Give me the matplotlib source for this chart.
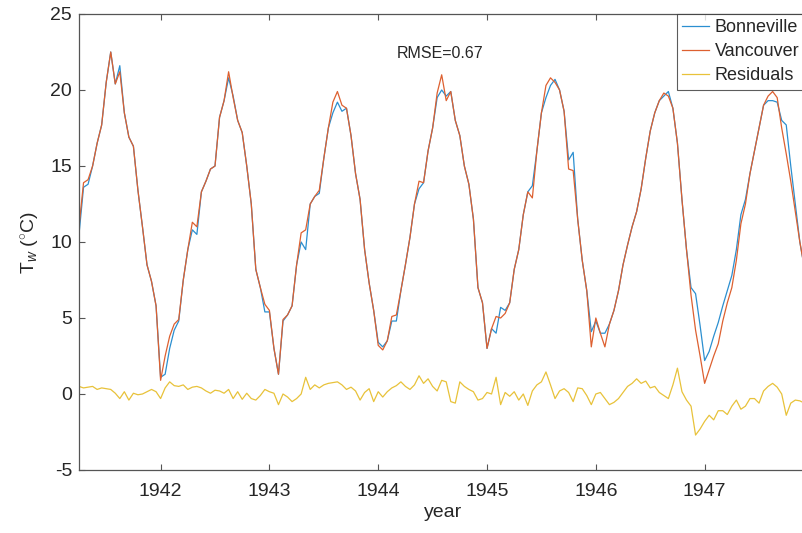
"""
Temperatura del agua en Bonneville vs Vancouver (1941-1947) con residuales.
Estilo MATLAB: ticks hacia dentro, caja completa, leyenda arriba a la derecha.
"""

import numpy as np
import matplotlib
matplotlib.use("Agg")
import matplotlib.pyplot as plt

plt.rcParams["font.family"] = ["Liberation Sans", "DejaVu Sans"]
plt.rcParams["mathtext.fontset"] = "custom"
plt.rcParams["mathtext.rm"] = "Liberation Sans"
plt.rcParams["mathtext.it"] = "Liberation Sans:italic"
plt.rcParams["axes.unicode_minus"] = False

# Serie quincenal desde abril de 1941 (año decimal)
START_YEAR = 1941.25
STEPS_PER_YEAR = 24

bonneville = [
    10.5, 13.6, 13.8, 15.0, 16.5, 17.7, 20.5, 22.5, 20.4, 21.6,
    18.5, 16.9, 16.3, 13.4, 11.0, 8.5, 7.4, 5.8, 1.1, 1.3,
    3.0, 4.2, 4.8, 7.5, 9.5, 10.8, 10.5, 13.3, 14.0, 14.8,
    15.0, 18.2, 19.3, 20.8, 19.6, 18.0, 17.2, 15.0, 12.5, 8.2,
    7.0, 5.4, 5.4, 3.0, 1.3, 4.8, 5.2, 5.8, 8.5, 10.0,
    9.5, 12.5, 13.0, 13.2, 15.5, 17.5, 18.5, 19.2, 18.6, 18.8,
    17.0, 14.5, 12.8, 9.5, 7.3, 5.5, 3.4, 3.1, 3.5, 4.8,
    4.8, 6.8, 8.5, 10.3, 12.5, 13.5, 13.9, 16.0, 17.5, 19.5,
    20.0, 19.6, 19.9, 18.0, 17.0, 15.0, 13.8, 11.5, 7.0, 6.0,
    3.0, 4.3, 4.0, 5.7, 5.5, 6.0, 8.2, 9.5, 11.8, 13.3,
    13.7, 16.0, 18.5, 19.5, 20.3, 20.7, 20.0, 18.6, 15.4, 15.9,
    11.5, 8.8, 6.8, 4.1, 4.8, 4.0, 4.0, 4.6, 5.5, 6.8,
    8.5, 9.8, 11.0, 12.0, 13.5, 15.5, 17.3, 18.5, 19.3, 19.6,
    19.9, 18.8, 16.5, 12.8, 9.5, 7.0, 6.6, 4.5, 2.2, 2.8,
    3.8, 4.7, 5.8, 6.8, 7.8, 9.5, 11.8, 12.8, 14.5, 16.0,
    17.5, 19.0, 19.3, 19.3, 19.2, 18.0, 17.7, 15.0, 12.5, 10.0,
    8.3, 7.0,
]

vancouver = [
    11.0, 13.9, 14.1, 15.0, 16.5, 17.7, 20.5, 22.5, 20.4, 21.2,
    18.5, 16.9, 16.3, 13.4, 11.0, 8.5, 7.4, 5.8, 0.9, 2.5,
    3.8, 4.6, 4.9, 7.5, 9.5, 11.3, 11.0, 13.3, 14.0, 14.8,
    15.0, 18.2, 19.3, 21.2, 19.5, 18.0, 17.2, 15.0, 12.5, 8.2,
    7.0, 5.9, 5.5, 3.0, 1.3, 4.9, 5.2, 5.8, 8.5, 10.6,
    10.8, 12.5, 13.0, 13.4, 15.5, 17.5, 19.2, 19.9, 19.0, 18.8,
    17.0, 14.5, 12.8, 9.5, 7.3, 5.5, 3.2, 2.9, 3.5, 5.1,
    5.2, 6.8, 8.5, 10.3, 12.5, 14.0, 13.9, 16.0, 17.5, 19.8,
    21.0, 19.3, 19.9, 18.0, 17.0, 15.0, 13.8, 11.5, 7.0, 6.0,
    3.0, 4.3, 5.1, 5.0, 5.3, 6.0, 8.2, 9.5, 11.8, 13.3,
    12.9, 16.0, 18.5, 20.3, 20.8, 20.5, 20.0, 18.6, 14.8, 14.7,
    11.5, 8.8, 6.8, 3.1, 5.0, 4.0, 3.1, 4.6, 5.5, 6.8,
    8.5, 9.8, 11.0, 12.0, 13.5, 15.5, 17.3, 18.5, 19.3, 19.8,
    19.6, 18.8, 16.5, 12.8, 9.5, 6.5, 4.2, 2.5, 0.7, 1.6,
    2.5, 3.3, 4.8, 6.0, 7.0, 8.8, 11.2, 12.5, 14.5, 16.0,
    17.5, 19.0, 19.6, 19.9, 19.5, 17.5, 15.8, 14.0, 12.0, 10.0,
    8.3, 7.0,
]

residuals = [
    0.5, 0.4, 0.45, 0.5, 0.3, 0.4, 0.35, 0.3, 0.05, -0.3,
    0.15, -0.4, 0.05, -0.05, 0.0, 0.15, 0.3, 0.15, -0.3, 0.4,
    0.8, 0.55, 0.5, 0.6, 0.3, 0.45, 0.5, 0.4, 0.2, 0.05,
    0.25, 0.2, 0.05, 0.3, -0.3, 0.15, -0.35, 0.05, -0.3, -0.4,
    -0.1, 0.3, 0.15, 0.05, -0.7, 0.0, -0.2, -0.5, -0.3, 0.0,
    1.1, 0.3, 0.6, 0.4, 0.6, 0.7, 0.75, 0.8, 0.6, 0.3,
    0.45, 0.2, -0.4, 0.1, 0.35, -0.5, 0.15, -0.2, 0.15, 0.4,
    0.55, 0.8, 0.5, 0.3, 0.6, 1.2, 0.7, 1.0, 0.5, 0.2,
    0.9, 0.8, -0.5, -0.6, 0.8, 0.5, 0.3, 0.15, -0.4, -0.3,
    0.1, 0.0, 1.1, -0.7, 0.1, -0.15, 0.15, -0.4, 0.0, -0.75,
    0.2, 0.6, 0.8, 1.45, 0.6, -0.3, 0.2, 0.35, 0.1, -0.5,
    0.4, 0.35, -0.1, -0.7, 0.0, 0.1, -0.3, -0.7, -0.55, -0.3,
    0.1, 0.5, 0.7, 1.0, 0.7, 0.85, 0.4, 0.5, 0.1, -0.1,
    -0.3, 0.6, 1.7, 0.15, -0.4, -0.8, -2.7, -2.3, -1.8, -1.4,
    -1.7, -1.1, -1.1, -1.35, -0.8, -0.4, -1.0, -0.8, -0.3, -0.3,
    -0.6, 0.2, 0.5, 0.7, 0.45, 0.0, -1.4, -0.6, -0.4, -0.45,
    -0.6, -0.5,
]

year_ticks = [1942, 1943, 1944, 1945, 1946, 1947]
temp_ticks = [-5, 0, 5, 10, 15, 20, 25]
rmse_label = "RMSE=0.67"


def main():
    t = START_YEAR + np.arange(len(bonneville)) / STEPS_PER_YEAR

    fig = plt.figure(figsize=(8.03, 5.33), dpi=100)
    # la caja se sale por la derecha, igual que en la captura original
    ax = fig.add_axes([79 / 803, 63 / 533, 729 / 803, 456 / 533])

    ax.plot(t, bonneville, color="#2b8fd0", linewidth=0.9, label="Bonneville")
    ax.plot(t, vancouver, color="#dd6030", linewidth=0.9, label="Vancouver")
    ax.plot(t, residuals, color="#e8c23a", linewidth=0.9, label="Residuals")

    ax.set_xlim(1941.25, 1947.95)
    ax.set_ylim(-5, 25)
    ax.set_xticks(year_ticks)
    ax.set_yticks(temp_ticks)
    ax.tick_params(direction="in", length=4, width=0.8, colors="#555555",
                   labelcolor="#262626", labelsize=14,
                   top=True, right=True)
    ax.tick_params(axis="x", pad=9)
    ax.tick_params(axis="y", pad=5)
    for sp in ax.spines.values():
        sp.set_color("#555555")
        sp.set_linewidth(0.9)

    ax.set_xlabel("year", fontsize=14, color="#262626", labelpad=3)
    ax.set_ylabel(r"T$_w$ ($^{\circ}$C)", fontsize=14, color="#262626", labelpad=6)

    ax.text(1944.17, 22.4, rmse_label, fontsize=11.5, color="#262626",
            ha="left", va="center")

    leg = ax.legend(loc="upper left", bbox_to_anchor=(0.82, 1.0),
                    borderaxespad=0, fancybox=False, shadow=False,
                    frameon=True, fontsize=13, handlelength=1.5,
                    handletextpad=0.3, labelspacing=0.38, borderpad=0.3)
    leg.get_frame().set_edgecolor("#333333")
    leg.get_frame().set_linewidth(0.8)
    for txt in leg.get_texts():
        txt.set_color("#262626")

    fig.savefig("out.png", dpi=100)
    plt.close(fig)


if __name__ == "__main__":
    main()
